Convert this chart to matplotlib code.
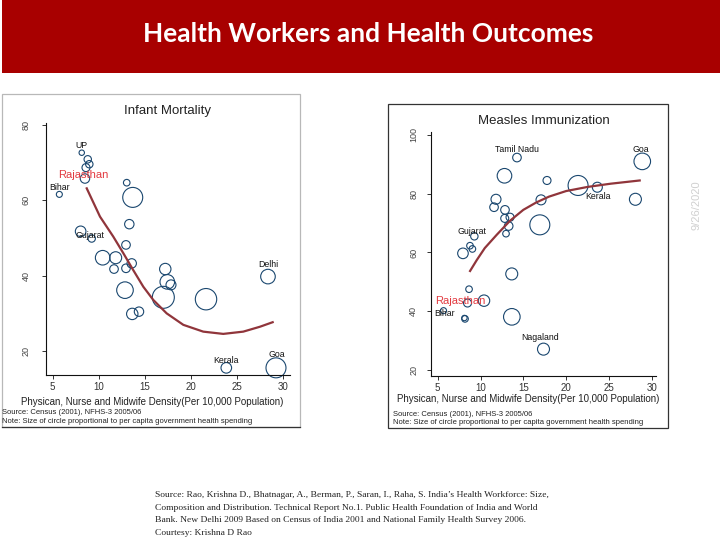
import matplotlib
matplotlib.use("Agg")
import matplotlib.pyplot as plt
from matplotlib.patches import Rectangle

# ---------------- data ----------------
slide_title = "Health Workers and Health Outcomes"
xlabel = "Physican, Nurse and Midwife Density(Per 10,000 Population)"
src_note1 = "Source: Census (2001), NFHS-3 2005/06"
src_note2 = "Note: Size of circle proportional to per capita government health spending"

# Infant mortality panel
imr_density = [8.15, 8.80, 8.97, 8.61, 8.5, 5.72, 13.03, 13.68, 13.31, 8.03, 9.23, 12.95,
               10.42, 11.83, 13.57, 11.65, 12.95, 12.84, 17.21, 17.43, 17.83, 17.0, 13.63,
               14.36, 21.63, 28.35, 23.83, 29.22]
imr_value = [72.65, 70.9, 69.6, 68.7, 65.8, 61.6, 64.7, 60.8, 53.7, 51.8, 49.9, 48.2,
             44.8, 44.8, 43.3, 41.8, 42.0, 36.2, 41.8, 38.4, 37.6, 34.3, 29.9,
             30.5, 33.8, 39.8, 15.6, 15.6]
imr_spend = [73, 137, 137, 160, 221, 90, 109, 1000, 221, 281, 137, 185,
             533, 360, 221, 185, 185, 689, 325, 533, 250, 1210, 325,
             221, 1145, 533, 281, 1000]
imr_fit_x = [8.69, 10.13, 11.57, 12.66, 13.74, 14.83, 15.91, 17.36, 19.17, 21.33, 23.5, 25.67, 27.48, 28.86]
imr_fit_y = [63.2, 55.7, 50.4, 46.0, 41.5, 37.1, 33.6, 30.05, 27.0, 25.2, 24.6, 25.2, 26.5, 27.7]
imr_labels = {0: "UP", 4: "Rajasthan", 5: "Bihar", 10: "Gujarat", 25: "Delhi", 26: "Kerala", 27: "Goa"}

# Measles immunization panel
mea_density = [14.26, 12.8, 17.77, 11.81, 17.07, 11.58, 12.86, 12.83, 13.45, 13.29, 12.98, 16.93,
               9.28, 8.77, 9.05, 7.95, 13.65, 8.66, 10.41, 8.48, 5.68, 8.19, 8.12, 13.66,
               17.36, 28.9, 21.4, 23.65, 28.1]
mea_value = [92.3, 86.1, 84.5, 78.1, 77.9, 75.4, 74.5, 71.6, 72.0, 69.0, 66.4, 69.4,
             65.5, 62.3, 61.2, 59.7, 52.7, 47.5, 43.6, 42.8, 40.2, 37.4, 37.7, 38.1,
             27.1, 91.0, 82.8, 82.2, 78.1]
mea_spend = [185, 533, 160, 250, 250, 185, 185, 160, 160, 185, 109, 1000,
             137, 109, 109, 281, 360, 109, 325, 160, 90, 109, 73, 689,
             360, 689, 1000, 250, 360]
mea_fit_x = [8.78, 9.56, 10.5, 11.89, 13.45, 15.0, 16.5, 18.0, 20.0, 22.5, 25.2, 28.6]
mea_fit_y = [53.7, 57.4, 61.5, 66.0, 70.8, 74.5, 77.0, 79.0, 80.9, 82.3, 83.4, 84.5]
mea_labels = {0: "Tamil Nadu", 25: "Goa", 27: "Kerala", 12: "Gujarat", 19: "Rajasthan",
              20: "Bihar", 24: "Nagaland"}

x_ticks = [5, 10, 15, 20, 25, 30]
imr_yticks = [20, 40, 60, 80]
mea_yticks = [20, 40, 60, 80, 100]

footer = [
    "Source: Rao, Krishna D., Bhatnagar, A., Berman, P., Saran, I., Raha, S. India\u2019s Health Workforce: Size,",
    "Composition and Distribution. Technical Report No.1. Public Health Foundation of India and World",
    "Bank. New Delhi 2009 Based on Census of India 2001 and National Family Health Survey 2006.",
    "Courtesy: Krishna D Rao",
]
date_text = "9/26/2020"

# ---------------- style ----------------
SANS = ["Liberation Sans", "DejaVu Sans"]
NAVY = "#1a476f"
MAROON = "#90353b"
RED = "#e23a40"

fig = plt.figure(figsize=(7.2, 5.4), dpi=100)
fig.patch.set_facecolor("white")

deco = fig.add_axes([0, 0, 1, 1], zorder=0)
deco.set_xlim(0, 720)
deco.set_ylim(540, 0)
deco.axis("off")

deco.add_patch(Rectangle((2, 0), 718, 73, color="#a80000", lw=0))
deco.text(368, 34, slide_title, color="white", fontsize=19, fontweight="bold",
          family=["Lato", "DejaVu Sans"], ha="center", va="center")

# panel frames
deco.add_patch(Rectangle((2, 94), 298, 333, fill=False, edgecolor="#b8b8b8", lw=0.9))
deco.plot([2, 300], [427, 427], color="#333333", lw=0.9)
deco.add_patch(Rectangle((388, 104), 280, 324, fill=False, edgecolor="#333333", lw=0.9))

# panel titles and notes
deco.text(168, 111, "Infant Mortality", fontsize=9.5, family=SANS, color="#222222", ha="center", va="center")
deco.text(544, 121, "Measles Immunization", fontsize=9.5, family=SANS, color="#222222", ha="center", va="center")
deco.text(152, 402, xlabel, fontsize=7, family=SANS, color="#222222", ha="center", va="center")
deco.text(528, 399, xlabel, fontsize=7, family=SANS, color="#222222", ha="center", va="center")
deco.text(2, 413, src_note1, fontsize=5.5, family=SANS, color="#222222", ha="left", va="center")
deco.text(2, 421.5, src_note2, fontsize=5.5, family=SANS, color="#222222", ha="left", va="center")
deco.text(393, 415, src_note1, fontsize=5.5, family=SANS, color="#222222", ha="left", va="center")
deco.text(393, 422, src_note2, fontsize=5.5, family=SANS, color="#222222", ha="left", va="center")

deco.text(696, 205, date_text, fontsize=8, family=SANS, color="#d0d0d0", rotation=90,
          ha="center", va="center")

for i, line in enumerate(footer):
    deco.text(155, 495 + i * 12.7, line, fontsize=6.8, family=["Liberation Serif", "DejaVu Serif"],
              color="#222222", ha="left", va="center")


def style_axes(ax, xlim, ylim, yticks, ypad):
    ax.set_xlim(*xlim)
    ax.set_ylim(*ylim)
    ax.set_facecolor("none")
    for s in ("top", "right"):
        ax.spines[s].set_visible(False)
    for s in ("left", "bottom"):
        ax.spines[s].set_linewidth(0.8)
        ax.spines[s].set_color("#111111")
    ax.set_xticks(x_ticks)
    ax.set_xticklabels([str(t) for t in x_ticks], fontsize=7, family=SANS, color="#333333")
    ax.set_yticks(yticks)
    ax.set_yticklabels([str(t) for t in yticks], fontsize=6.5, family=SANS, color="#444444",
                       rotation=90, va="center")
    ax.tick_params(axis="both", direction="out", length=3, width=0.6, color="#111111")
    ax.tick_params(axis="x", pad=2)
    ax.tick_params(axis="y", pad=ypad)


def label_offsets(ax, xs, ys, labels, offsets):
    for idx, name in labels.items():
        dx, dy = offsets[name]
        if name == "Rajasthan":
            ax.annotate(name, (xs[idx], ys[idx]), xytext=(dx, dy), textcoords="offset points",
                        fontsize=8, color=RED, family=SANS, ha="center", va="center",
                        annotation_clip=False)
        else:
            ax.annotate(name, (xs[idx], ys[idx]), xytext=(dx, dy), textcoords="offset points",
                        fontsize=6.3, color="#111111", family=SANS, ha="center", va="center",
                        annotation_clip=False)


SIZE_SCALE = 0.207

# Left panel
axL = fig.add_axes([45.7 / 720, 165 / 540, (290 - 45.7) / 720, (375 - 123.3) / 540], zorder=2)
style_axes(axL, (4.24, 30.74), (13.7, 80.45), imr_yticks, 8)
axL.scatter(imr_density, imr_value, s=[v * SIZE_SCALE for v in imr_spend], facecolors="none",
            edgecolors=NAVY, linewidths=0.8, clip_on=False, zorder=2)
axL.plot(imr_fit_x, imr_fit_y, color=MAROON, lw=1.6, zorder=3, solid_joinstyle="round")
label_offsets(axL, imr_density, imr_value, imr_labels,
              {"UP": (-0.5, 5.5), "Rajasthan": (-1, 2.4), "Bihar": (0, 5.3), "Gujarat": (-1.2, 2.4),
               "Delhi": (0, 8.9), "Kerala": (0, 5), "Goa": (0.5, 9.9)})

# Right panel
axR = fig.add_axes([430.7 / 720, 164 / 540, (655.7 - 430.7) / 720, (376 - 131.7) / 540], zorder=2)
style_axes(axR, (4.18, 30.47), (17.96, 101.1), mea_yticks, 6)
axR.scatter(mea_density, mea_value, s=[v * SIZE_SCALE for v in mea_spend], facecolors="none",
            edgecolors=NAVY, linewidths=0.8, clip_on=False, zorder=2)
axR.plot(mea_fit_x, mea_fit_y, color=MAROON, lw=1.6, zorder=3, solid_joinstyle="round")
label_offsets(axR, mea_density, mea_value, mea_labels,
              {"Tamil Nadu": (0, 6), "Goa": (-1.2, 8.4), "Kerala": (0.7, -6.5), "Gujarat": (-1.4, 3.6),
               "Rajasthan": (-5.5, 1.2), "Bihar": (0.5, -1.9), "Nagaland": (-2.4, 8.4)})

fig.savefig("out.png", dpi=100, facecolor="white")
